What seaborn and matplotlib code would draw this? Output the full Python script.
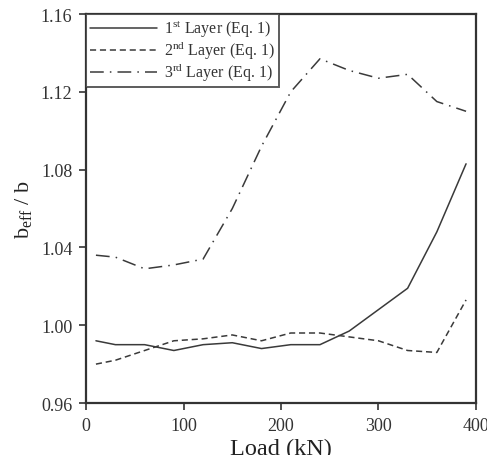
import numpy as np
import pandas as pd
import seaborn as sns
import matplotlib
matplotlib.use("Agg")
import matplotlib.pyplot as plt

# Values
load_kn = [10, 30, 60, 90, 120, 150, 180, 210, 240, 270, 300, 330, 360, 390]
layer_1 = [0.992, 0.990, 0.990, 0.987, 0.990, 0.991, 0.988, 0.990, 0.990, 0.997,
           1.008, 1.019, 1.048, 1.083]
layer_2 = [0.980, 0.982, 0.987, 0.992, 0.993, 0.995, 0.992, 0.996, 0.996, 0.994,
           0.992, 0.987, 0.986, 1.013]
layer_3 = [1.036, 1.035, 1.029, 1.031, 1.034, 1.060, 1.092, 1.120, 1.137, 1.131,
           1.127, 1.129, 1.115, 1.110]
labels = ["1$^{\\rm st}$ Layer (Eq. 1)", "2$^{\\rm nd}$ Layer (Eq. 1)",
          "3$^{\\rm rd}$ Layer (Eq. 1)"]

sns.set_style("ticks")
plt.rcParams["font.family"] = ["Liberation Serif", "DejaVu Serif"]
plt.rcParams["mathtext.fontset"] = "custom"
plt.rcParams["mathtext.rm"] = "Liberation Serif"

fig = plt.figure(figsize=(4.87, 4.56), dpi=100)
ax = fig.add_axes([0.177, 0.114, 0.8, 0.853])

styles = ["-", (0, (4, 2.5)), (0, (9, 4, 1, 4))]
for vals, lab, ls in zip([layer_1, layer_2, layer_3], labels, styles):
    sns.lineplot(x=load_kn, y=vals, ax=ax, color="#3a3a3a", linewidth=1.1,
                 linestyle=ls, label=lab)

ax.set_xlim(0, 400)
ax.set_ylim(0.96, 1.16)
ax.set_xticks([0, 100, 200, 300, 400])
ax.set_yticks([0.96, 1.00, 1.04, 1.08, 1.12, 1.16])
ax.set_yticklabels([f"{v:.2f}" for v in [0.96, 1.00, 1.04, 1.08, 1.12, 1.16]])
ax.tick_params(direction="out", length=5, width=1.2, labelsize=13, colors="#333333",
               pad=5)
for s in ax.spines.values():
    s.set_linewidth(1.6)
    s.set_color("#333333")

ax.set_xlabel("Load (kN)", fontsize=17.5, color="#222222", labelpad=3)
ax.set_ylabel("b$_{\\rm eff}$ / b", fontsize=16, color="#222222", labelpad=4)

leg = ax.legend(loc="upper left", fontsize=11.5, frameon=True, fancybox=False,
                borderaxespad=0, handlelength=4.2, handletextpad=0.45,
                borderpad=0.25, labelspacing=-0.05)
leg.get_frame().set_edgecolor("#333333")
leg.get_frame().set_linewidth(1.4)
for t in leg.get_texts():
    t.set_color("#333333")

fig.savefig("out.png", dpi=100)
